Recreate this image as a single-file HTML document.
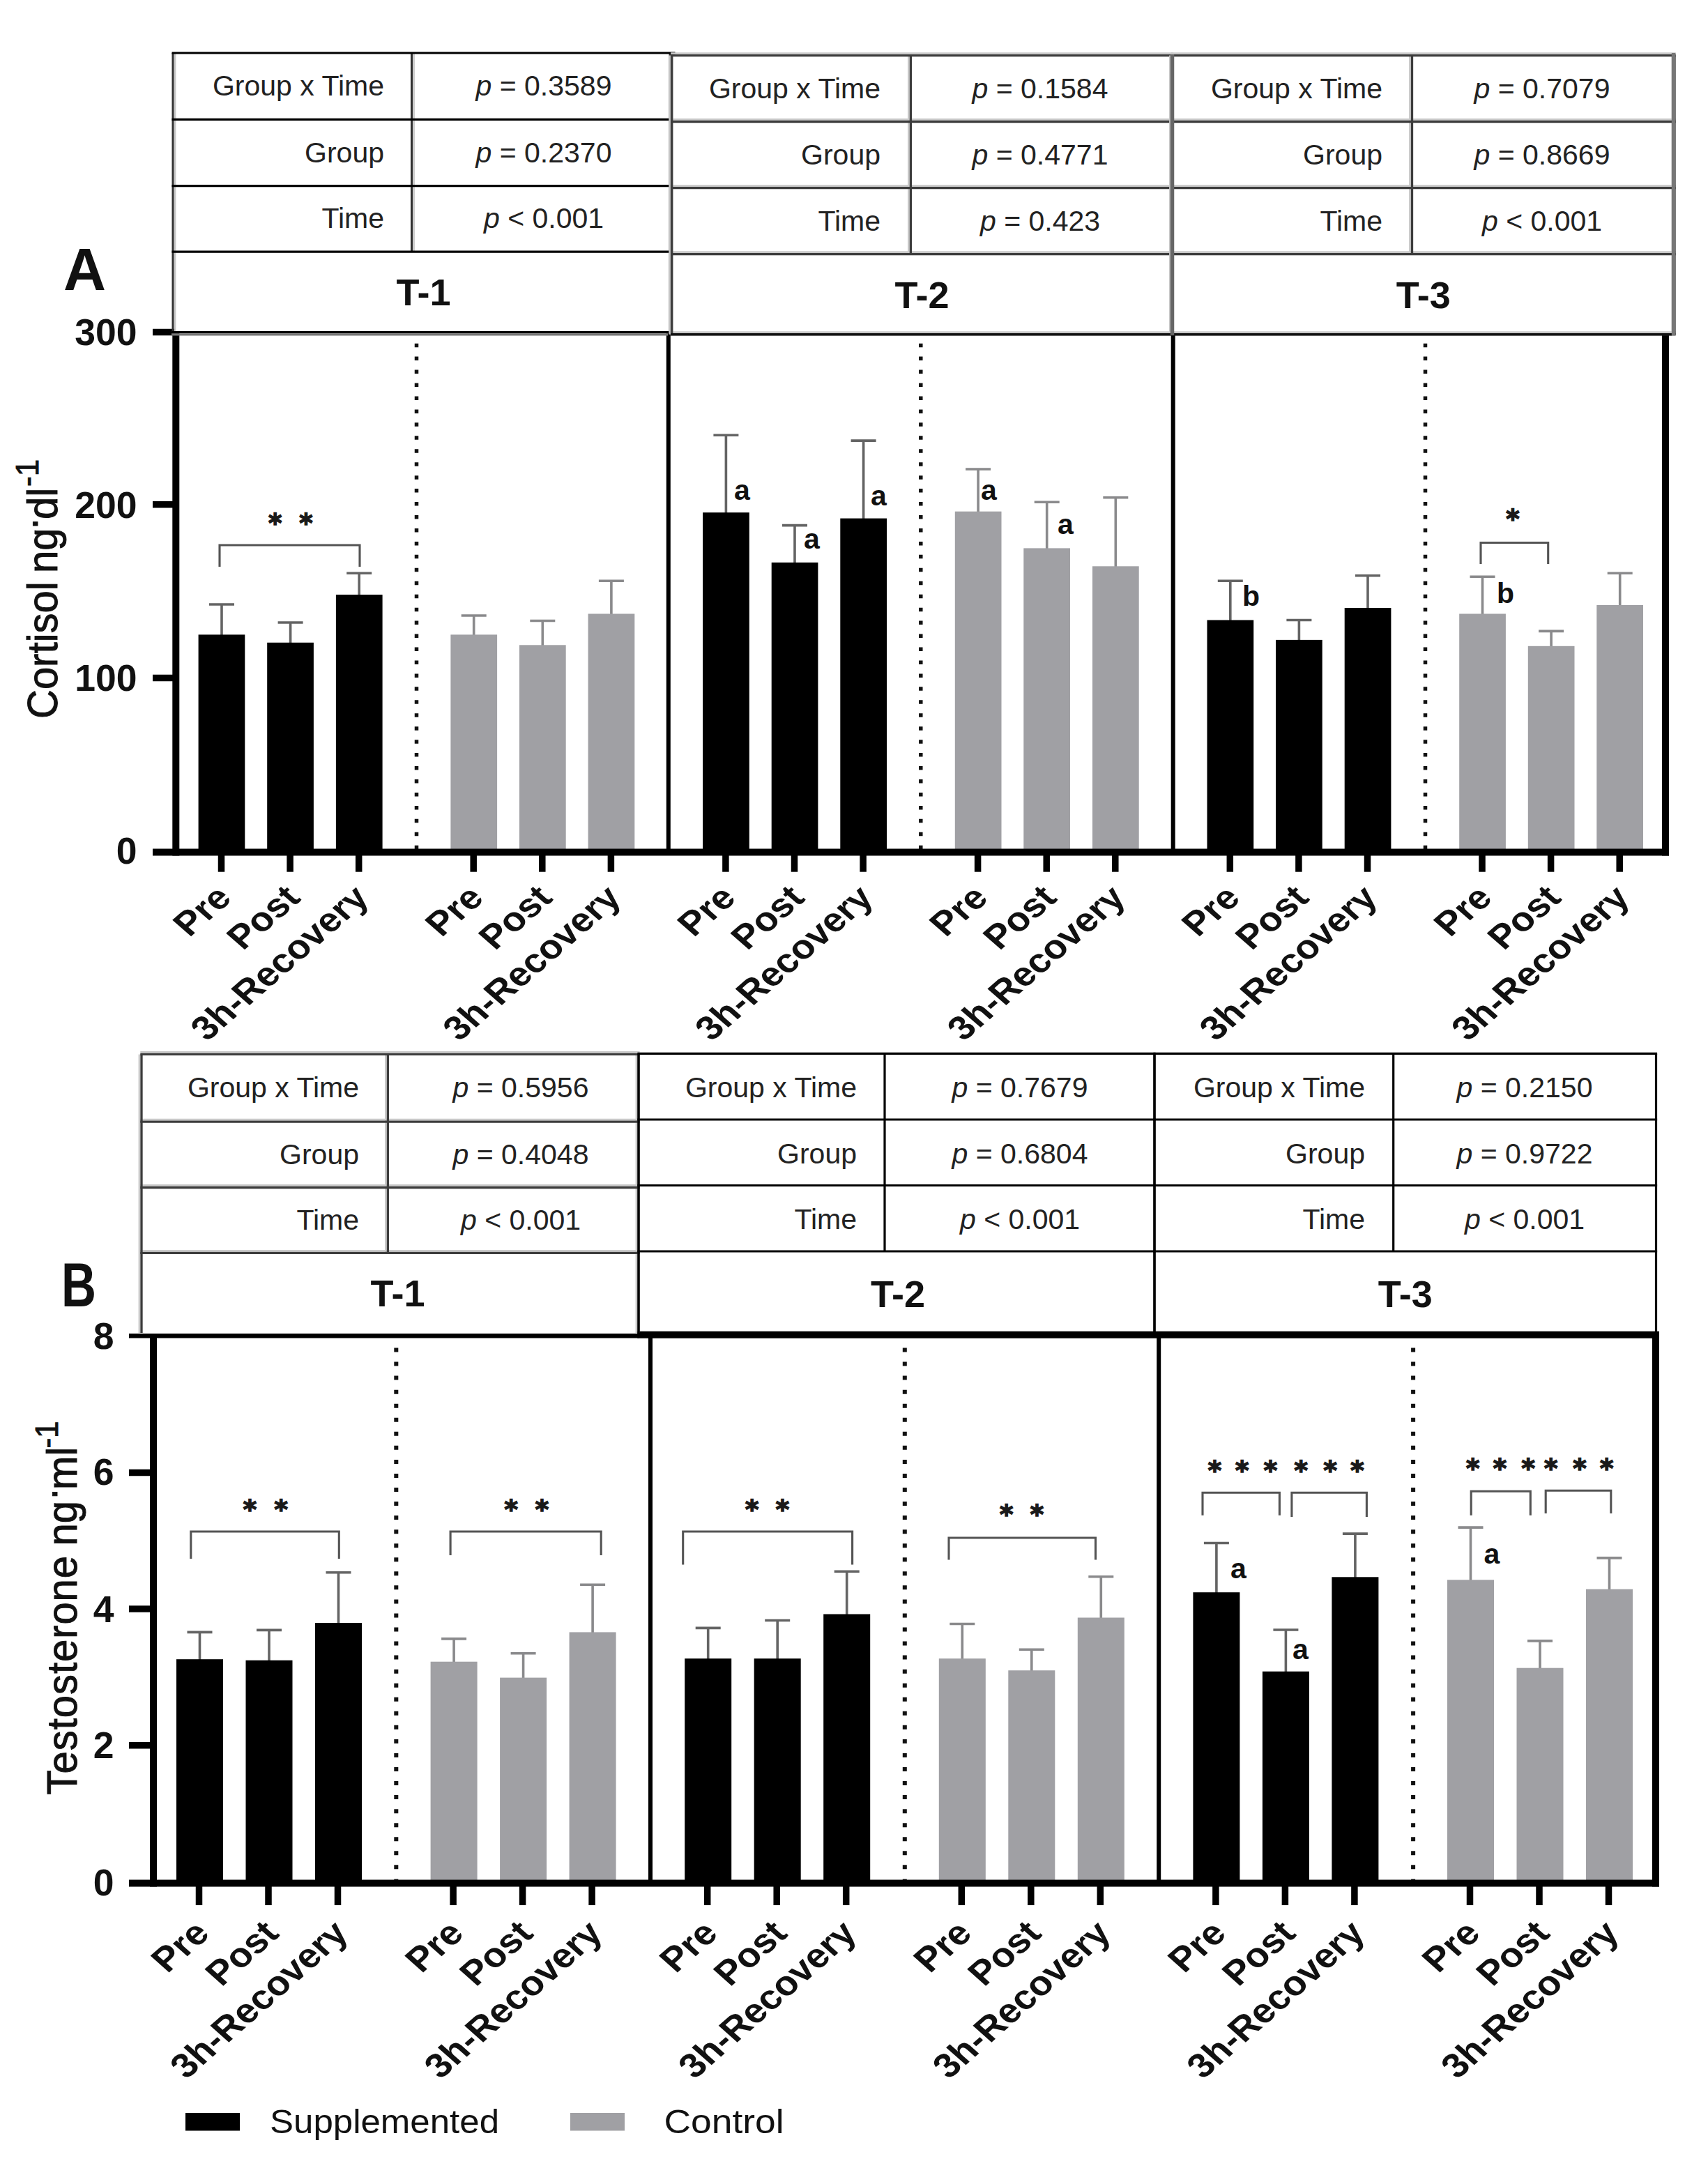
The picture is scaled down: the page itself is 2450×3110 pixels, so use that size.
<!DOCTYPE html>
<html lang="en"><head><meta charset="utf-8"><title>Cortisol and testosterone responses</title>
<style>
html,body{margin:0;padding:0;background:#fff;overflow:hidden}
svg{display:block}
svg text{font-family:'Liberation Sans',sans-serif}
.eb{stroke:none}
.st{font-family:'DejaVu Sans',sans-serif;font-weight:bold;fill:#1a1a1a;stroke:#1a1a1a;stroke-width:1.6px}
</style></head><body>
<svg width="2450" height="3110" viewBox="0 0 2450 3110">
<rect width="2450" height="3110" fill="#fff"/>
<!-- Panel A : Cortisol -->
<path d="M318.0 912.4V867.0M300.0 867.0H336.0" stroke="#646464" stroke-width="3.6" fill="none"/>
<rect x="284.6" y="910.4" width="66.7" height="311.1" fill="#000"/>
<path d="M416.6 923.8V893.0M398.6 893.0H434.6" stroke="#646464" stroke-width="3.6" fill="none"/>
<rect x="383.2" y="921.8" width="66.7" height="299.7" fill="#000"/>
<path d="M515.2 855.1V822.3M497.2 822.3H533.2" stroke="#646464" stroke-width="3.6" fill="none"/>
<rect x="481.9" y="853.1" width="66.7" height="368.4" fill="#000"/>
<path d="M679.7 912.4V883.0M661.7 883.0H697.7" stroke="#8a8a8c" stroke-width="3.6" fill="none"/>
<rect x="646.4" y="910.4" width="66.7" height="311.1" fill="#a0a0a4"/>
<path d="M778.3 927.3V890.5M760.3 890.5H796.3" stroke="#8a8a8c" stroke-width="3.6" fill="none"/>
<rect x="745.0" y="925.3" width="66.7" height="296.2" fill="#a0a0a4"/>
<path d="M876.9 882.5V833.2M858.9 833.2H894.9" stroke="#8a8a8c" stroke-width="3.6" fill="none"/>
<rect x="843.6" y="880.5" width="66.7" height="341.0" fill="#a0a0a4"/>
<path d="M1041.4 737.2V624.2M1023.4 624.2H1059.4" stroke="#646464" stroke-width="3.6" fill="none"/>
<rect x="1008.1" y="735.2" width="66.7" height="486.3" fill="#000"/>
<path d="M1140.0 808.9V753.6M1122.0 753.6H1158.0" stroke="#646464" stroke-width="3.6" fill="none"/>
<rect x="1106.7" y="806.9" width="66.7" height="414.6" fill="#000"/>
<path d="M1238.6 745.6V632.1M1220.6 632.1H1256.6" stroke="#646464" stroke-width="3.6" fill="none"/>
<rect x="1205.3" y="743.6" width="66.7" height="477.9" fill="#000"/>
<path d="M1403.1 735.7V673.0M1385.1 673.0H1421.1" stroke="#8a8a8c" stroke-width="3.6" fill="none"/>
<rect x="1369.8" y="733.7" width="66.7" height="487.8" fill="#a0a0a4"/>
<path d="M1501.7 788.4V720.2M1483.7 720.2H1519.7" stroke="#8a8a8c" stroke-width="3.6" fill="none"/>
<rect x="1468.3" y="786.4" width="66.7" height="435.1" fill="#a0a0a4"/>
<path d="M1600.3 814.3V713.8M1582.3 713.8H1618.3" stroke="#8a8a8c" stroke-width="3.6" fill="none"/>
<rect x="1567.0" y="812.3" width="66.7" height="409.2" fill="#a0a0a4"/>
<path d="M1764.8 891.5V833.2M1746.8 833.2H1782.8" stroke="#646464" stroke-width="3.6" fill="none"/>
<rect x="1731.5" y="889.5" width="66.7" height="332.0" fill="#000"/>
<path d="M1863.4 919.9V889.5M1845.4 889.5H1881.4" stroke="#646464" stroke-width="3.6" fill="none"/>
<rect x="1830.0" y="917.9" width="66.7" height="303.6" fill="#000"/>
<path d="M1962.0 874.0V825.8M1944.0 825.8H1980.0" stroke="#646464" stroke-width="3.6" fill="none"/>
<rect x="1928.7" y="872.0" width="66.7" height="349.5" fill="#000"/>
<path d="M2126.5 882.5V827.3M2108.5 827.3H2144.5" stroke="#8a8a8c" stroke-width="3.6" fill="none"/>
<rect x="2093.2" y="880.5" width="66.7" height="341.0" fill="#a0a0a4"/>
<path d="M2225.1 928.8V905.4M2207.1 905.4H2243.1" stroke="#8a8a8c" stroke-width="3.6" fill="none"/>
<rect x="2191.8" y="926.8" width="66.7" height="294.7" fill="#a0a0a4"/>
<path d="M2323.7 870.0V822.3M2305.7 822.3H2341.7" stroke="#8a8a8c" stroke-width="3.6" fill="none"/>
<rect x="2290.3" y="868.0" width="66.7" height="353.5" fill="#a0a0a4"/>
<line x1="597.5" y1="492.65" x2="597.5" y2="1219" stroke="#111" stroke-width="5.5" stroke-dasharray="5.5 13.45"/>
<line x1="1320.8" y1="492.65" x2="1320.8" y2="1219" stroke="#111" stroke-width="5.5" stroke-dasharray="5.5 13.45"/>
<line x1="2044.5" y1="492.65" x2="2044.5" y2="1219" stroke="#111" stroke-width="5.5" stroke-dasharray="5.5 13.45"/>
<g stroke="#000" fill="none"><line x1="252.3" y1="475" x2="252.3" y2="1227.5" stroke-width="10"/><line x1="219" y1="1222.5" x2="2394" y2="1222.5" stroke-width="10"/><line x1="2389" y1="481" x2="2389" y2="1227.5" stroke-width="10"/><line x1="958.8" y1="478" x2="958.8" y2="1222.5" stroke-width="6"/><line x1="1682.7" y1="481" x2="1682.7" y2="1222.5" stroke-width="6"/><line x1="219" y1="476.6" x2="252" y2="476.6" stroke-width="9.5"/><line x1="219" y1="723.7" x2="252" y2="723.7" stroke-width="9.5"/><line x1="219" y1="972.6" x2="252" y2="972.6" stroke-width="9.5"/></g>
<g stroke="#000" stroke-width="9.5"><line x1="317.5" y1="1222.5" x2="317.5" y2="1250.7"/><line x1="416.1" y1="1222.5" x2="416.1" y2="1250.7"/><line x1="514.7" y1="1222.5" x2="514.7" y2="1250.7"/><line x1="679.2" y1="1222.5" x2="679.2" y2="1250.7"/><line x1="777.8" y1="1222.5" x2="777.8" y2="1250.7"/><line x1="876.4" y1="1222.5" x2="876.4" y2="1250.7"/><line x1="1040.9" y1="1222.5" x2="1040.9" y2="1250.7"/><line x1="1139.5" y1="1222.5" x2="1139.5" y2="1250.7"/><line x1="1238.1" y1="1222.5" x2="1238.1" y2="1250.7"/><line x1="1402.6" y1="1222.5" x2="1402.6" y2="1250.7"/><line x1="1501.2" y1="1222.5" x2="1501.2" y2="1250.7"/><line x1="1599.8" y1="1222.5" x2="1599.8" y2="1250.7"/><line x1="1764.3" y1="1222.5" x2="1764.3" y2="1250.7"/><line x1="1862.9" y1="1222.5" x2="1862.9" y2="1250.7"/><line x1="1961.5" y1="1222.5" x2="1961.5" y2="1250.7"/><line x1="2126.0" y1="1222.5" x2="2126.0" y2="1250.7"/><line x1="2224.6" y1="1222.5" x2="2224.6" y2="1250.7"/><line x1="2323.2" y1="1222.5" x2="2323.2" y2="1250.7"/></g>
<g class="eb" font-size="53.5" font-weight="bold" text-anchor="end" fill="#111"><text x="196.5" y="495">300</text><text x="196.5" y="742.5">200</text><text x="196.5" y="991">100</text><text x="196.5" y="1238.5">0</text></g>
<text transform="translate(82.3 1031) rotate(-90) scale(1 1.05)" font-size="58" fill="#111" stroke="#111" stroke-width="0.9"><tspan x="0">Cortisol</tspan> <tspan x="209">ng</tspan><tspan x="270" dy="-15">·</tspan><tspan x="286" dy="15">dl</tspan><tspan x="333" dy="-26" font-size="44">-1</tspan></text>
<g class="eb" font-size="49" font-weight="bold" text-anchor="end" fill="#111">
<text transform="translate(334.6 1290.5) scale(1.13 0.985) rotate(-45)">Pre</text>
<text transform="translate(433.2 1290.5) scale(1.13 0.985) rotate(-45)">Post</text>
<text transform="translate(531.8 1290.5) scale(1.13 0.985) rotate(-45)">3h-Recovery</text>
<text transform="translate(696.3 1290.5) scale(1.13 0.985) rotate(-45)">Pre</text>
<text transform="translate(794.9 1290.5) scale(1.13 0.985) rotate(-45)">Post</text>
<text transform="translate(893.5 1290.5) scale(1.13 0.985) rotate(-45)">3h-Recovery</text>
<text transform="translate(1058.0 1290.5) scale(1.13 0.985) rotate(-45)">Pre</text>
<text transform="translate(1156.6 1290.5) scale(1.13 0.985) rotate(-45)">Post</text>
<text transform="translate(1255.2 1290.5) scale(1.13 0.985) rotate(-45)">3h-Recovery</text>
<text transform="translate(1419.7 1290.5) scale(1.13 0.985) rotate(-45)">Pre</text>
<text transform="translate(1518.3 1290.5) scale(1.13 0.985) rotate(-45)">Post</text>
<text transform="translate(1616.9 1290.5) scale(1.13 0.985) rotate(-45)">3h-Recovery</text>
<text transform="translate(1781.4 1290.5) scale(1.13 0.985) rotate(-45)">Pre</text>
<text transform="translate(1880.0 1290.5) scale(1.13 0.985) rotate(-45)">Post</text>
<text transform="translate(1978.6 1290.5) scale(1.13 0.985) rotate(-45)">3h-Recovery</text>
<text transform="translate(2143.1 1290.5) scale(1.13 0.985) rotate(-45)">Pre</text>
<text transform="translate(2241.7 1290.5) scale(1.13 0.985) rotate(-45)">Post</text>
<text transform="translate(2340.3 1290.5) scale(1.13 0.985) rotate(-45)">3h-Recovery</text>
</g>
<g stroke="#c8c8c8" stroke-width="2.6" fill="none">
<line x1="251.1" y1="76.0" x2="251.1" y2="476.6"/>
<line x1="964.1" y1="76.0" x2="964.1" y2="476.6"/>
<line x1="593.6" y1="76.0" x2="593.6" y2="361.2"/>
</g>
<g stroke="#303030" stroke-width="3.0" fill="none">
<line x1="248" y1="76.0" x2="248" y2="476.6"/>
<line x1="961" y1="76.0" x2="961" y2="476.6"/>
<line x1="590.5" y1="76.0" x2="590.5" y2="361.2"/>
</g>
<g stroke="#000" stroke-width="3.2" fill="none">
<line x1="246.5" y1="76" x2="968.5" y2="76"/>
<line x1="246.5" y1="171.4" x2="962.5" y2="171.4"/>
<line x1="246.5" y1="266.6" x2="962.5" y2="266.6"/>
<line x1="246.5" y1="361.2" x2="962.5" y2="361.2"/>
<line x1="246.5" y1="476.6" x2="962.5" y2="476.6"/>
</g>
<text x="551" y="137.2" text-anchor="end" font-size="41" fill="#222">Group x Time</text>
<text x="780" y="137.2" text-anchor="middle" font-size="41" fill="#222"><tspan font-style="italic">p</tspan> = 0.3589</text>
<text x="551" y="232.5" text-anchor="end" font-size="41" fill="#222">Group</text>
<text x="780" y="232.5" text-anchor="middle" font-size="41" fill="#222"><tspan font-style="italic">p</tspan> = 0.2370</text>
<text x="551" y="327.4" text-anchor="end" font-size="41" fill="#222">Time</text>
<text x="780" y="327.4" text-anchor="middle" font-size="41" fill="#222"><tspan font-style="italic">p</tspan> &lt; 0.001</text>
<text x="607.5" y="438.3" class="eb" text-anchor="middle" font-size="54" font-weight="bold" fill="#111">T-1</text>
<line x1="246" y1="479.8" x2="958" y2="479.8" stroke="#777" stroke-width="3.3"/>
<g stroke="#c8c8c8" stroke-width="2.6" fill="none">
<line x1="962.1" y1="76.5" x2="1683.2" y2="76.5"/>
<line x1="962.1" y1="171.4" x2="1683.2" y2="171.4"/>
<line x1="962.1" y1="266.6" x2="1683.2" y2="266.6"/>
<line x1="962.1" y1="361.6" x2="1683.2" y2="361.6"/>
<line x1="962.1" y1="476.6" x2="1683.2" y2="476.6"/>
<line x1="960.6" y1="79.6" x2="960.6" y2="479.7"/>
<line x1="1678.4" y1="79.6" x2="1678.4" y2="479.7"/>
<line x1="1303.3" y1="79.6" x2="1303.3" y2="364.7"/>
</g>
<g stroke="#3c3c3c" stroke-width="3.3" fill="none">
<line x1="963.7" y1="79.6" x2="963.7" y2="479.7"/>
<line x1="1681.5" y1="79.6" x2="1681.5" y2="479.7"/>
<line x1="1306.4" y1="79.6" x2="1306.4" y2="364.7"/>
</g>
<g stroke="#3c3c3c" stroke-width="3.3" fill="none">
<line x1="962.1" y1="79.6" x2="1683.2" y2="79.6"/>
<line x1="962.1" y1="174.5" x2="1683.2" y2="174.5"/>
<line x1="962.1" y1="269.7" x2="1683.2" y2="269.7"/>
<line x1="962.1" y1="364.7" x2="1683.2" y2="364.7"/>
<line x1="962.1" y1="479.7" x2="1683.2" y2="479.7"/>
</g>
<text x="1263" y="140.6" text-anchor="end" font-size="41" fill="#222">Group x Time</text>
<text x="1492" y="140.6" text-anchor="middle" font-size="41" fill="#222"><tspan font-style="italic">p</tspan> = 0.1584</text>
<text x="1263" y="235.6" text-anchor="end" font-size="41" fill="#222">Group</text>
<text x="1492" y="235.6" text-anchor="middle" font-size="41" fill="#222"><tspan font-style="italic">p</tspan> = 0.4771</text>
<text x="1263" y="330.7" text-anchor="end" font-size="41" fill="#222">Time</text>
<text x="1492" y="330.7" text-anchor="middle" font-size="41" fill="#222"><tspan font-style="italic">p</tspan> = 0.423</text>
<text x="1322.6" y="441.6" class="eb" text-anchor="middle" font-size="54" font-weight="bold" fill="#111">T-2</text>
<g stroke="#c8c8c8" stroke-width="2.6" fill="none">
<line x1="1679.8" y1="76.5" x2="2403.7" y2="76.5"/>
<line x1="1679.8" y1="171.4" x2="2403.7" y2="171.4"/>
<line x1="1679.8" y1="266.6" x2="2403.7" y2="266.6"/>
<line x1="1679.8" y1="361.6" x2="2403.7" y2="361.6"/>
<line x1="1679.8" y1="476.6" x2="2403.7" y2="476.6"/>
<line x1="1678.4" y1="79.6" x2="1678.4" y2="479.7"/>
<line x1="2398.9" y1="79.6" x2="2398.9" y2="479.7"/>
<line x1="2022.4" y1="79.6" x2="2022.4" y2="364.7"/>
</g>
<g stroke="#3c3c3c" stroke-width="3.3" fill="none">
<line x1="1681.5" y1="79.6" x2="1681.5" y2="479.7"/>
<line x1="2402" y1="79.6" x2="2402" y2="479.7"/>
<line x1="2025.5" y1="79.6" x2="2025.5" y2="364.7"/>
</g>
<g stroke="#3c3c3c" stroke-width="3.3" fill="none">
<line x1="1679.8" y1="79.6" x2="2403.7" y2="79.6"/>
<line x1="1679.8" y1="174.5" x2="2403.7" y2="174.5"/>
<line x1="1679.8" y1="269.7" x2="2403.7" y2="269.7"/>
<line x1="1679.8" y1="364.7" x2="2403.7" y2="364.7"/>
<line x1="1679.8" y1="479.7" x2="2403.7" y2="479.7"/>
</g>
<text x="1983" y="140.6" text-anchor="end" font-size="41" fill="#222">Group x Time</text>
<text x="2212" y="140.6" text-anchor="middle" font-size="41" fill="#222"><tspan font-style="italic">p</tspan> = 0.7079</text>
<text x="1983" y="235.6" text-anchor="end" font-size="41" fill="#222">Group</text>
<text x="2212" y="235.6" text-anchor="middle" font-size="41" fill="#222"><tspan font-style="italic">p</tspan> = 0.8669</text>
<text x="1983" y="330.7" text-anchor="end" font-size="41" fill="#222">Time</text>
<text x="2212" y="330.7" text-anchor="middle" font-size="41" fill="#222"><tspan font-style="italic">p</tspan> &lt; 0.001</text>
<text x="2041.8" y="441.6" class="eb" text-anchor="middle" font-size="54" font-weight="bold" fill="#111">T-3</text>
<line x1="962" y1="479.7" x2="2398" y2="479.7" stroke="#111" stroke-width="3.4"/>
<line x1="1681.5" y1="78" x2="1681.5" y2="481" stroke="#666" stroke-width="5.5"/>
<line x1="2400.6" y1="76" x2="2400.6" y2="481.4" stroke="#777" stroke-width="5.5"/>
<text x="91" y="416" font-size="86" font-weight="bold" fill="#111" textLength="61" lengthAdjust="spacingAndGlyphs">A</text>
<path d="M315 813V782H516V813" stroke="#545454" stroke-width="3.1" fill="none"/>
<text x="394.7" y="762.6" text-anchor="middle" font-size="37" class="st">*</text>
<text x="439.0" y="762.6" text-anchor="middle" font-size="37" class="st">*</text>
<path d="M2124 809V778.5H2220.7V809" stroke="#545454" stroke-width="3.1" fill="none"/>
<text x="2170.0" y="757.3" text-anchor="middle" font-size="37" class="st">*</text>
<text x="1053.0" y="717.0" font-size="41" font-weight="bold" fill="#111">a</text>
<text x="1153.0" y="786.5" font-size="41" font-weight="bold" fill="#111">a</text>
<text x="1249.0" y="724.5" font-size="41" font-weight="bold" fill="#111">a</text>
<text x="1407.0" y="717.0" font-size="41" font-weight="bold" fill="#111">a</text>
<text x="1517.0" y="766.0" font-size="41" font-weight="bold" fill="#111">a</text>
<text x="1782.0" y="869.0" font-size="41" font-weight="bold" fill="#111">b</text>
<text x="2147.0" y="865.0" font-size="41" font-weight="bold" fill="#111">b</text>
<!-- Panel B : Testosterone -->
<path d="M286.5 2382.2V2341.4M268.5 2341.4H304.5" stroke="#646464" stroke-width="3.6" fill="none"/>
<rect x="253.0" y="2380.2" width="67" height="320.1" fill="#000"/>
<path d="M386.0 2383.7V2338.4M368.0 2338.4H404.0" stroke="#646464" stroke-width="3.6" fill="none"/>
<rect x="352.5" y="2381.7" width="67" height="318.6" fill="#000"/>
<path d="M485.5 2330.0V2255.8M467.5 2255.8H503.5" stroke="#646464" stroke-width="3.6" fill="none"/>
<rect x="452.0" y="2328.0" width="67" height="372.3" fill="#000"/>
<path d="M651.1 2385.7V2350.9M633.1 2350.9H669.1" stroke="#8a8a8c" stroke-width="3.6" fill="none"/>
<rect x="617.6" y="2383.7" width="67" height="316.6" fill="#a0a0a4"/>
<path d="M750.6 2408.6V2371.8M732.6 2371.8H768.6" stroke="#8a8a8c" stroke-width="3.6" fill="none"/>
<rect x="717.1" y="2406.6" width="67" height="293.7" fill="#a0a0a4"/>
<path d="M850.1 2343.4V2273.2M832.1 2273.2H868.1" stroke="#8a8a8c" stroke-width="3.6" fill="none"/>
<rect x="816.6" y="2341.4" width="67" height="358.9" fill="#a0a0a4"/>
<path d="M1015.7 2381.2V2335.4M997.7 2335.4H1033.7" stroke="#646464" stroke-width="3.6" fill="none"/>
<rect x="982.2" y="2379.2" width="67" height="321.1" fill="#000"/>
<path d="M1115.2 2381.2V2324.5M1097.2 2324.5H1133.2" stroke="#646464" stroke-width="3.6" fill="none"/>
<rect x="1081.7" y="2379.2" width="67" height="321.1" fill="#000"/>
<path d="M1214.7 2317.5V2254.3M1196.7 2254.3H1232.7" stroke="#646464" stroke-width="3.6" fill="none"/>
<rect x="1181.2" y="2315.5" width="67" height="384.8" fill="#000"/>
<path d="M1380.3 2381.2V2329.5M1362.3 2329.5H1398.3" stroke="#8a8a8c" stroke-width="3.6" fill="none"/>
<rect x="1346.8" y="2379.2" width="67" height="321.1" fill="#a0a0a4"/>
<path d="M1479.8 2398.2V2366.3M1461.8 2366.3H1497.8" stroke="#8a8a8c" stroke-width="3.6" fill="none"/>
<rect x="1446.3" y="2396.2" width="67" height="304.1" fill="#a0a0a4"/>
<path d="M1579.3 2322.5V2261.8M1561.3 2261.8H1597.3" stroke="#8a8a8c" stroke-width="3.6" fill="none"/>
<rect x="1545.8" y="2320.5" width="67" height="379.8" fill="#a0a0a4"/>
<path d="M1744.9 2286.2V2213.5M1726.9 2213.5H1762.9" stroke="#646464" stroke-width="3.6" fill="none"/>
<rect x="1711.4" y="2284.2" width="67" height="416.1" fill="#000"/>
<path d="M1844.4 2399.7V2338.0M1826.4 2338.0H1862.4" stroke="#646464" stroke-width="3.6" fill="none"/>
<rect x="1810.9" y="2397.7" width="67" height="302.6" fill="#000"/>
<path d="M1943.9 2264.3V2200.1M1925.9 2200.1H1961.9" stroke="#646464" stroke-width="3.6" fill="none"/>
<rect x="1910.4" y="2262.3" width="67" height="438.0" fill="#000"/>
<path d="M2109.5 2268.3V2191.1M2091.5 2191.1H2127.5" stroke="#8a8a8c" stroke-width="3.6" fill="none"/>
<rect x="2076.0" y="2266.3" width="67" height="434.0" fill="#a0a0a4"/>
<path d="M2209.0 2394.7V2353.9M2191.0 2353.9H2227.0" stroke="#8a8a8c" stroke-width="3.6" fill="none"/>
<rect x="2175.5" y="2392.7" width="67" height="307.6" fill="#a0a0a4"/>
<path d="M2308.5 2281.7V2234.9M2290.5 2234.9H2326.5" stroke="#8a8a8c" stroke-width="3.6" fill="none"/>
<rect x="2275.0" y="2279.7" width="67" height="420.6" fill="#a0a0a4"/>
<line x1="568.3" y1="1933.5" x2="568.3" y2="2699" stroke="#111" stroke-width="6" stroke-dasharray="6 14.05"/>
<line x1="1297.8" y1="1933.5" x2="1297.8" y2="2699" stroke="#111" stroke-width="6" stroke-dasharray="6 14.05"/>
<line x1="2027.1" y1="1933.5" x2="2027.1" y2="2699" stroke="#111" stroke-width="6" stroke-dasharray="6 14.05"/>
<g stroke="#000" fill="none"><line x1="220" y1="1913" x2="220" y2="2706.6" stroke-width="10"/><line x1="185" y1="2701.6" x2="2379.9" y2="2701.6" stroke-width="10"/><line x1="185" y1="1916.3" x2="916" y2="1916.3" stroke-width="6.6"/><line x1="914.3" y1="1914.7" x2="2379.9" y2="1914.7" stroke-width="10"/><line x1="2374.9" y1="1910" x2="2374.9" y2="2706.6" stroke-width="10"/><line x1="933" y1="1916" x2="933" y2="2701.6" stroke-width="6"/><line x1="1662.2" y1="1916" x2="1662.2" y2="2701.6" stroke-width="6"/><line x1="185" y1="2112.5" x2="220" y2="2112.5" stroke-width="9.5"/><line x1="185" y1="2308" x2="220" y2="2308" stroke-width="9.5"/><line x1="185" y1="2503.7" x2="220" y2="2503.7" stroke-width="9.5"/></g>
<g stroke="#000" stroke-width="9.5"><line x1="285.5" y1="2701.6" x2="285.5" y2="2733"/><line x1="385.0" y1="2701.6" x2="385.0" y2="2733"/><line x1="484.5" y1="2701.6" x2="484.5" y2="2733"/><line x1="650.1" y1="2701.6" x2="650.1" y2="2733"/><line x1="749.6" y1="2701.6" x2="749.6" y2="2733"/><line x1="849.1" y1="2701.6" x2="849.1" y2="2733"/><line x1="1014.7" y1="2701.6" x2="1014.7" y2="2733"/><line x1="1114.2" y1="2701.6" x2="1114.2" y2="2733"/><line x1="1213.7" y1="2701.6" x2="1213.7" y2="2733"/><line x1="1379.3" y1="2701.6" x2="1379.3" y2="2733"/><line x1="1478.8" y1="2701.6" x2="1478.8" y2="2733"/><line x1="1578.3" y1="2701.6" x2="1578.3" y2="2733"/><line x1="1743.9" y1="2701.6" x2="1743.9" y2="2733"/><line x1="1843.4" y1="2701.6" x2="1843.4" y2="2733"/><line x1="1942.9" y1="2701.6" x2="1942.9" y2="2733"/><line x1="2108.5" y1="2701.6" x2="2108.5" y2="2733"/><line x1="2208.0" y1="2701.6" x2="2208.0" y2="2733"/><line x1="2307.5" y1="2701.6" x2="2307.5" y2="2733"/></g>
<g class="eb" font-size="53.5" font-weight="bold" text-anchor="end" fill="#111"><text x="163.5" y="1934.5">8</text><text x="163.5" y="2130">6</text><text x="163.5" y="2326.6">4</text><text x="163.5" y="2522.2">2</text><text x="163.5" y="2719">0</text></g>
<text transform="translate(110.4 2574.4) rotate(-90) scale(1 1.05)" font-size="58" fill="#111" stroke="#111" stroke-width="0.9"><tspan x="0" letter-spacing="0.95">Testosterone</tspan> <tspan x="357">ng</tspan><tspan x="421.7" dy="-15">·</tspan><tspan x="437.3" dy="15">ml</tspan><tspan x="496.8" dy="-26" font-size="44">-1</tspan></text>
<g class="eb" font-size="49" font-weight="bold" text-anchor="end" fill="#111">
<text transform="translate(303.1 2776.0) scale(1.13 1.0) rotate(-45)">Pre</text>
<text transform="translate(402.6 2776.0) scale(1.13 1.0) rotate(-45)">Post</text>
<text transform="translate(502.1 2776.0) scale(1.13 1.0) rotate(-45)">3h-Recovery</text>
<text transform="translate(667.7 2776.0) scale(1.13 1.0) rotate(-45)">Pre</text>
<text transform="translate(767.2 2776.0) scale(1.13 1.0) rotate(-45)">Post</text>
<text transform="translate(866.7 2776.0) scale(1.13 1.0) rotate(-45)">3h-Recovery</text>
<text transform="translate(1032.3 2776.0) scale(1.13 1.0) rotate(-45)">Pre</text>
<text transform="translate(1131.8 2776.0) scale(1.13 1.0) rotate(-45)">Post</text>
<text transform="translate(1231.3 2776.0) scale(1.13 1.0) rotate(-45)">3h-Recovery</text>
<text transform="translate(1396.9 2776.0) scale(1.13 1.0) rotate(-45)">Pre</text>
<text transform="translate(1496.4 2776.0) scale(1.13 1.0) rotate(-45)">Post</text>
<text transform="translate(1595.9 2776.0) scale(1.13 1.0) rotate(-45)">3h-Recovery</text>
<text transform="translate(1761.5 2776.0) scale(1.13 1.0) rotate(-45)">Pre</text>
<text transform="translate(1861.0 2776.0) scale(1.13 1.0) rotate(-45)">Post</text>
<text transform="translate(1960.5 2776.0) scale(1.13 1.0) rotate(-45)">3h-Recovery</text>
<text transform="translate(2126.1 2776.0) scale(1.13 1.0) rotate(-45)">Pre</text>
<text transform="translate(2225.6 2776.0) scale(1.13 1.0) rotate(-45)">Post</text>
<text transform="translate(2325.1 2776.0) scale(1.13 1.0) rotate(-45)">3h-Recovery</text>
</g>
<g stroke="#c8c8c8" stroke-width="2.6" fill="none">
<line x1="201.3" y1="1509.3" x2="917.6" y2="1509.3"/>
<line x1="201.3" y1="1606.0" x2="917.6" y2="1606.0"/>
<line x1="201.3" y1="1700.4" x2="917.6" y2="1700.4"/>
<line x1="201.3" y1="1794.2" x2="917.6" y2="1794.2"/>
<line x1="199.9" y1="1512.4" x2="199.9" y2="1912.0"/>
<line x1="912.9" y1="1512.4" x2="912.9" y2="1912.0"/>
<line x1="553.3" y1="1512.4" x2="553.3" y2="1797.3"/>
</g>
<g stroke="#3c3c3c" stroke-width="3.3" fill="none">
<line x1="203" y1="1512.4" x2="203" y2="1912.0"/>
<line x1="916" y1="1512.4" x2="916" y2="1912.0"/>
<line x1="556.4" y1="1512.4" x2="556.4" y2="1797.3"/>
</g>
<g stroke="#3c3c3c" stroke-width="3.3" fill="none">
<line x1="201.3" y1="1512.4" x2="917.6" y2="1512.4"/>
<line x1="201.3" y1="1609.1" x2="917.6" y2="1609.1"/>
<line x1="201.3" y1="1703.5" x2="917.6" y2="1703.5"/>
<line x1="201.3" y1="1797.3" x2="917.6" y2="1797.3"/>
</g>
<text x="515" y="1574.3" text-anchor="end" font-size="41" fill="#222">Group x Time</text>
<text x="747" y="1574.3" text-anchor="middle" font-size="41" fill="#222"><tspan font-style="italic">p</tspan> = 0.5956</text>
<text x="515" y="1669.8" text-anchor="end" font-size="41" fill="#222">Group</text>
<text x="747" y="1669.8" text-anchor="middle" font-size="41" fill="#222"><tspan font-style="italic">p</tspan> = 0.4048</text>
<text x="515" y="1763.9" text-anchor="end" font-size="41" fill="#222">Time</text>
<text x="747" y="1763.9" text-anchor="middle" font-size="41" fill="#222"><tspan font-style="italic">p</tspan> &lt; 0.001</text>
<text x="570.5" y="1874.1" class="eb" text-anchor="middle" font-size="54" font-weight="bold" fill="#111">T-1</text>
<g stroke="#000" stroke-width="3.2" fill="none">
<line x1="916" y1="1511.4" x2="916" y2="1915.5"/>
<line x1="1656" y1="1511.4" x2="1656" y2="1915.5"/>
<line x1="1269" y1="1511.4" x2="1269" y2="1795.0"/>
</g>
<g stroke="#000" stroke-width="3.2" fill="none">
<line x1="914.4" y1="1511.4" x2="1657.6" y2="1511.4"/>
<line x1="914.4" y1="1606" x2="1657.6" y2="1606"/>
<line x1="914.4" y1="1700.5" x2="1657.6" y2="1700.5"/>
<line x1="914.4" y1="1795" x2="1657.6" y2="1795"/>
</g>
<text x="1229" y="1574.2" text-anchor="end" font-size="41" fill="#222">Group x Time</text>
<text x="1463" y="1574.2" text-anchor="middle" font-size="41" fill="#222"><tspan font-style="italic">p</tspan> = 0.7679</text>
<text x="1229" y="1668.8" text-anchor="end" font-size="41" fill="#222">Group</text>
<text x="1463" y="1668.8" text-anchor="middle" font-size="41" fill="#222"><tspan font-style="italic">p</tspan> = 0.6804</text>
<text x="1229" y="1763.3" text-anchor="end" font-size="41" fill="#222">Time</text>
<text x="1463" y="1763.3" text-anchor="middle" font-size="41" fill="#222"><tspan font-style="italic">p</tspan> &lt; 0.001</text>
<text x="1288.0" y="1874.7" class="eb" text-anchor="middle" font-size="54" font-weight="bold" fill="#111">T-2</text>
<g stroke="#000" stroke-width="3.2" fill="none">
<line x1="1656" y1="1511.4" x2="1656" y2="1915.5"/>
<line x1="2375.5" y1="1511.4" x2="2375.5" y2="1915.5"/>
<line x1="1998.7" y1="1511.4" x2="1998.7" y2="1795.0"/>
</g>
<g stroke="#000" stroke-width="3.2" fill="none">
<line x1="1654.4" y1="1511.4" x2="2377.1" y2="1511.4"/>
<line x1="1654.4" y1="1606" x2="2377.1" y2="1606"/>
<line x1="1654.4" y1="1700.5" x2="2377.1" y2="1700.5"/>
<line x1="1654.4" y1="1795" x2="2377.1" y2="1795"/>
</g>
<text x="1958" y="1574.2" text-anchor="end" font-size="41" fill="#222">Group x Time</text>
<text x="2187" y="1574.2" text-anchor="middle" font-size="41" fill="#222"><tspan font-style="italic">p</tspan> = 0.2150</text>
<text x="1958" y="1668.8" text-anchor="end" font-size="41" fill="#222">Group</text>
<text x="2187" y="1668.8" text-anchor="middle" font-size="41" fill="#222"><tspan font-style="italic">p</tspan> = 0.9722</text>
<text x="1958" y="1763.3" text-anchor="end" font-size="41" fill="#222">Time</text>
<text x="2187" y="1763.3" text-anchor="middle" font-size="41" fill="#222"><tspan font-style="italic">p</tspan> &lt; 0.001</text>
<text x="2015.8" y="1874.7" class="eb" text-anchor="middle" font-size="54" font-weight="bold" fill="#111">T-3</text>
<text x="88" y="1874" font-size="89" font-weight="bold" fill="#111" textLength="50" lengthAdjust="spacingAndGlyphs">B</text>
<path d="M273.8 2236V2197H486.3V2236" stroke="#545454" stroke-width="3.1" fill="none"/>
<text x="358.4" y="2177.5" text-anchor="middle" font-size="37" class="st">*</text>
<text x="403.2" y="2177.5" text-anchor="middle" font-size="37" class="st">*</text>
<path d="M646.1 2231V2197H862.2V2231" stroke="#545454" stroke-width="3.1" fill="none"/>
<text x="733.2" y="2177.5" text-anchor="middle" font-size="37" class="st">*</text>
<text x="777.5" y="2177.5" text-anchor="middle" font-size="37" class="st">*</text>
<path d="M979.7 2244.4V2197H1222.6V2244.4" stroke="#545454" stroke-width="3.1" fill="none"/>
<text x="1078.7" y="2177.5" text-anchor="middle" font-size="37" class="st">*</text>
<text x="1122.5" y="2177.5" text-anchor="middle" font-size="37" class="st">*</text>
<path d="M1361 2237.4V2206H1571.5V2237.4" stroke="#545454" stroke-width="3.1" fill="none"/>
<text x="1443.6" y="2185.0" text-anchor="middle" font-size="37" class="st">*</text>
<text x="1487.4" y="2185.0" text-anchor="middle" font-size="37" class="st">*</text>
<path d="M1725 2173.7V2141.3H1835.4V2173.7" stroke="#545454" stroke-width="3.1" fill="none"/>
<path d="M1852.9 2176V2141.3H1960.4V2176" stroke="#545454" stroke-width="3.1" fill="none"/>
<text x="1742.4" y="2121.8" text-anchor="middle" font-size="37" class="st">*</text>
<text x="1781.7" y="2121.8" text-anchor="middle" font-size="37" class="st">*</text>
<text x="1822.5" y="2121.8" text-anchor="middle" font-size="37" class="st">*</text>
<text x="1866.3" y="2121.8" text-anchor="middle" font-size="37" class="st">*</text>
<text x="1908.1" y="2121.8" text-anchor="middle" font-size="37" class="st">*</text>
<text x="1946.9" y="2121.8" text-anchor="middle" font-size="37" class="st">*</text>
<path d="M2110.2 2173.7V2139.3H2195.3V2173.7" stroke="#545454" stroke-width="3.1" fill="none"/>
<path d="M2217.2 2171V2138.3H2310.8V2171" stroke="#545454" stroke-width="3.1" fill="none"/>
<text x="2112.7" y="2118.8" text-anchor="middle" font-size="37" class="st">*</text>
<text x="2151.5" y="2118.8" text-anchor="middle" font-size="37" class="st">*</text>
<text x="2192.3" y="2118.8" text-anchor="middle" font-size="37" class="st">*</text>
<text x="2224.7" y="2118.8" text-anchor="middle" font-size="37" class="st">*</text>
<text x="2266.0" y="2118.8" text-anchor="middle" font-size="37" class="st">*</text>
<text x="2304.8" y="2118.8" text-anchor="middle" font-size="37" class="st">*</text>
<text x="1765.0" y="2264.0" font-size="41" font-weight="bold" fill="#111">a</text>
<text x="1854.0" y="2380.0" font-size="41" font-weight="bold" fill="#111">a</text>
<text x="2128.5" y="2243.0" font-size="41" font-weight="bold" fill="#111">a</text>
<rect x="266" y="3031" width="78" height="25.5" fill="#000"/>
<text x="387" y="3059.5" font-size="48" fill="#111" textLength="329" lengthAdjust="spacingAndGlyphs">Supplemented</text>
<rect x="818" y="3031" width="78" height="25.5" fill="#a0a0a4"/>
<text x="952.5" y="3059.5" font-size="48" fill="#111" textLength="172" lengthAdjust="spacingAndGlyphs">Control</text>
</svg></body></html>
